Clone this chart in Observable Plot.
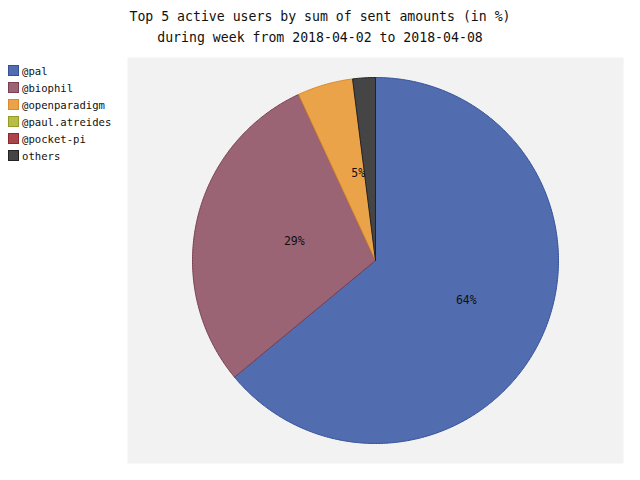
<!DOCTYPE html>
<html>
<head>
<meta charset="utf-8">
<script src="https://cdn.jsdelivr.net/npm/d3@7"></script>
<script src="https://cdn.jsdelivr.net/npm/@observablehq/plot@0.6"></script>
<style>
  body { margin: 0; background: #fff; font-family: "DejaVu Sans Mono", monospace; }
  #wrap { position: relative; width: 640px; height: 480px; }
  #title { position: absolute; top: 6px; left: 0; width: 640px; text-align: center; font-size: 13.2px; line-height: 21px; color: #111; white-space: pre; }
  #chart { position: absolute; top: 50px; left: 0; }
  #legend { position: absolute; top: 62px; left: 8px; font-size: 10.6px; color: #111; }
  .row { height: 17px; display: flex; align-items: center; }
  .sw { width: 9px; height: 9px; margin-right: 3px; border: 1px solid; }
</style>
</head>
<body>
<div id="wrap">
  <div id="title"></div>
  <div id="legend"></div>
  <div id="chart"></div>
</div>
<script>
const titleLines = ["Top 5 active users by sum of sent amounts (in %)", "during week from 2018-04-02 to 2018-04-08"];
const users = ["@pal", "@biophil", "@openparadigm", "@paul.atreides", "@pocket-pi", "others"];
const shares = [64.0, 29.1, 4.9, 0, 0, 2.0];
const fills = ["#516db0", "#9a6474", "#eba34a", "#b8bd44", "#aa454a", "#454545"];
const strokes = ["#34509a", "#7a3f52", "#d98a2a", "#959a2a", "#8a2a30", "#222222"];

document.getElementById("title").textContent = titleLines.join("\n");

const legend = document.getElementById("legend");
users.forEach((u, i) => {
  const r = document.createElement("div");
  r.className = "row";
  const s = document.createElement("div");
  s.className = "sw";
  s.style.background = fills[i];
  s.style.borderColor = strokes[i];
  const t = document.createElement("span");
  t.textContent = u;
  r.appendChild(s); r.appendChild(t);
  legend.appendChild(r);
});

// build slices (clockwise from 12 o'clock)
const total = d3.sum(shares);
let acc = 0;
const slices = users.map((u, i) => {
  const a0 = acc / total * 2 * Math.PI;
  acc += shares[i];
  const a1 = acc / total * 2 * Math.PI;
  const pts = [{x: 0, y: 0}];
  const n = Math.max(2, Math.ceil((a1 - a0) / (Math.PI / 360)));
  for (let k = 0; k <= n; k++) {
    const a = a0 + (a1 - a0) * k / n;
    pts.push({x: Math.sin(a), y: Math.cos(a)});
  }
  pts.push({x: 0, y: 0});
  const mid = (a0 + a1) / 2;
  return {name: u, share: shares[i], pts, fill: fills[i], stroke: strokes[i],
          lx: 0.5 * Math.sin(mid), ly: 0.5 * Math.cos(mid)};
});

const W = 640, H = 430, mL = 127, mR = 17, mT = 7, mB = 17;
const R = 183;
const hx = (W - mL - mR) / 2 / R, hy = (H - mT - mB) / 2 / R;

const marks = [Plot.frame({fill: "#f2f2f2", stroke: "none"})];
slices.filter(s => s.share > 0).forEach(s => {
  marks.push(Plot.line(s.pts, {x: "x", y: "y", fill: s.fill, stroke: s.stroke, strokeWidth: 1, curve: "linear"}));
});
marks.push(Plot.text(slices.filter(s => s.share / total >= 0.03), {
  x: "lx", y: "ly", text: d => Math.round(d.share / total * 100) + "%",
  fill: "#111", fontSize: 11.5, dx: 8, dy: 1
}));

const plot = Plot.plot({
  width: W, height: H,
  marginLeft: mL, marginRight: mR, marginTop: mT, marginBottom: mB,
  x: {domain: [-hx, hx], axis: null},
  y: {domain: [-hy, hy], axis: null},
  style: {fontFamily: "DejaVu Sans Mono, monospace", background: "transparent"},
  marks
});
document.getElementById("chart").appendChild(plot);
</script>
</body>
</html>
